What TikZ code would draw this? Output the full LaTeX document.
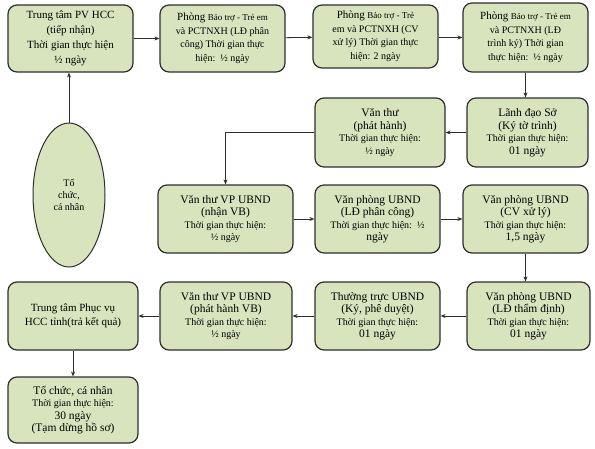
\documentclass[tikz,border=0pt]{standalone}
\usepackage{fontspec}
\setmainfont{Liberation Serif}
\usetikzlibrary{arrows.meta,shapes.geometric}
\definecolor{boxfill}{HTML}{D7E4BD}
\definecolor{boxline}{HTML}{2E2E2E}
\newcommand\ttl{\fontsize{11.5}{12.5}\selectfont}
\newcommand\smlfont{\fontsize{9}{13.5}\selectfont}
\newcommand\bigfont{\fontsize{11}{13.5}\selectfont}
\tikzset{
  stepbox/.style={draw=boxline, fill=boxfill, line width=1.2pt, rounded corners=9pt,
    align=center, inner sep=1pt, font=\fontsize{10}{12.5}\selectfont},
  arr/.style={draw=boxline, line width=0.8pt, -{Stealth[length=5pt,width=4pt]}},
}
\begin{document}
\begin{tikzpicture}[x=1pt,y=1pt]
\useasboundingbox (0,0) rectangle (595,-448);
% row 1
\node[stepbox, minimum width=125pt, minimum height=67pt, font=\fontsize{11}{15}\selectfont] (A) at (70.5,-38.5)
  {Trung tâm PV HCC\\(tiếp nhận)\\Thời gian thực hiện\\½ ngày};
\node[stepbox, minimum width=125pt, minimum height=67pt, font=\fontsize{10}{13.5}\selectfont] (B) at (222.5,-38.5)
  {{\bigfont Phòng} {\smlfont Bảo trợ - Trẻ em}\\và PCTNXH (LĐ phân\\công) Thời gian thực\\hiện:\ \ ½ ngày};
\node[stepbox, minimum width=125pt, minimum height=63pt, font=\fontsize{10}{13.5}\selectfont] (C) at (375.5,-36.5)
  {{\bigfont Phòng} {\smlfont Bảo trợ - Trẻ}\\em và PCTNXH (CV\\xử lý) Thời gian thực\\hiện: 2 ngày};
\node[stepbox, minimum width=125pt, minimum height=69pt, font=\fontsize{10}{13.5}\selectfont] (D) at (525.5,-37.5)
  {{\bigfont Phòng} {\smlfont Bảo trợ - Trẻ em}\\và PCTNXH (LĐ\\trình ký) Thời gian\\thực hiện:\ \ ½ ngày};
% ellipse
\node[draw=boxline, fill=boxfill, line width=1pt, ellipse, minimum width=72pt, minimum height=144pt,
  inner sep=0pt, align=center, font=\fontsize{10}{12}\selectfont] (E) at (69,-195)
  {Tổ\\chức,\\cá nhân};
% row 2
\node[stepbox, minimum width=130pt, minimum height=69pt] (VT) at (380,-132.5)
  {{\ttl Văn thư}\\{\ttl (phát hành)}\\Thời gian thực hiện:\\½ ngày};
\node[stepbox, minimum width=121pt, minimum height=69pt] (LD) at (527.5,-132.5)
  {{\ttl Lãnh đạo Sở}\\{\ttl (Ký tờ trình)}\\Thời gian thực hiện:\\{\ttl 01 ngày}};
% row 3
\node[stepbox, minimum width=135pt, minimum height=68pt] (NV) at (225.5,-219)
  {{\ttl Văn thư VP UBND}\\{\ttl (nhận VB)}\\Thời gian thực hiện:\\½ ngày};
\node[stepbox, minimum width=125pt, minimum height=68pt] (PC) at (377.5,-219)
  {{\ttl Văn phòng UBND}\\{\ttl (LĐ phân công)}\\Thời gian thực hiện:\ \ ½\\{\ttl ngày}};
\node[stepbox, minimum width=125pt, minimum height=68pt] (XL) at (525.5,-219)
  {{\ttl Văn phòng UBND}\\{\ttl (CV xử lý)}\\Thời gian thực hiện:\\{\ttl 1,5 ngày}};
% row 4
\node[stepbox, minimum width=130pt, minimum height=68pt, font=\fontsize{11}{14}\selectfont] (TT) at (73,-316)
  {Trung tâm Phục vụ\\HCC tỉnh(trả kết quả)};
\node[stepbox, minimum width=132pt, minimum height=68pt] (PH) at (226,-316)
  {{\ttl Văn thư VP UBND}\\{\ttl (phát hành VB)}\\Thời gian thực hiện:\\½ ngày};
\node[stepbox, minimum width=125pt, minimum height=68pt] (TR) at (377.5,-316)
  {{\ttl Thường trực UBND}\\{\ttl (Ký, phê duyệt)}\\Thời gian thực hiện:\\{\ttl 01 ngày}};
\node[stepbox, minimum width=123pt, minimum height=68pt] (TD) at (528.5,-316)
  {{\ttl Văn phòng UBND}\\{\ttl (LĐ thẩm định)}\\Thời gian thực hiện:\\{\ttl 01 ngày}};
% row 5
\node[stepbox, minimum width=130pt, minimum height=66pt] (TC) at (73,-410)
  {{\ttl Tổ chức, cá nhân}\\Thời gian thực hiện:\\{\ttl 30 ngày}\\{\ttl (Tạm dừng hồ sơ)}};
% connectors
\draw[arr] (E.north) -- (E.north |- A.south);
\draw[arr] (A) -- (B);
\draw[arr] (B) -- (C);
\draw[arr] (C.east |- D.west) -- (D.west);
\draw[arr] (D.south) -- (D.south |- LD.north);
\draw[arr] (LD) -- (VT);
\draw[arr] (VT.west) -| (NV.north);
\draw[arr] (NV) -- (PC);
\draw[arr] (PC) -- (XL);
\draw[arr] (XL.south) -- (XL.south |- TD.north);
\draw[arr] (TD) -- (TR);
\draw[arr] (TR) -- (PH);
\draw[arr] (PH) -- (TT);
\draw[arr] (TT) -- (TC);
\end{tikzpicture}
\end{document}
